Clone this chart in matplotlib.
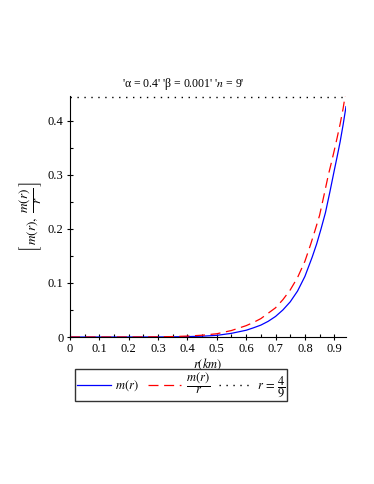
import numpy as np
import matplotlib.pyplot as plt
from matplotlib.ticker import MultipleLocator

plt.rcParams['font.family'] = ['Liberation Serif', 'DejaVu Serif']
plt.rcParams['mathtext.fontset'] = 'stix'

# values
r_m = [0, 0.1, 0.2, 0.3, 0.35, 0.4, 0.45, 0.5, 0.55, 0.6, 0.625, 0.65, 0.675, 0.7, 0.725, 0.75,
       0.775, 0.8, 0.825, 0.84, 0.855, 0.87, 0.885, 0.9, 0.91, 0.92, 0.93, 0.94]
m_vals = [0, 0, 0, 0.0001, 0.0003, 0.0007, 0.0015, 0.003, 0.0068, 0.0125, 0.017, 0.022, 0.029, 0.038, 0.05, 0.065,
          0.085, 0.112, 0.148, 0.172, 0.2, 0.23, 0.268, 0.308, 0.334, 0.361, 0.392, 0.426]

r_mr = [0, 0.1, 0.2, 0.3, 0.35, 0.4, 0.45, 0.5, 0.55, 0.6, 0.625, 0.65, 0.675, 0.7, 0.725, 0.75,
        0.775, 0.8, 0.82, 0.835, 0.85, 0.865, 0.88, 0.89, 0.9, 0.91, 0.92, 0.93, 0.937]
mr_vals = [0, 0, 0, 0.0003, 0.0008, 0.0017, 0.0033, 0.006, 0.012, 0.021, 0.027, 0.034, 0.044, 0.054, 0.069, 0.087,
           0.11, 0.14, 0.172, 0.198, 0.225, 0.262, 0.3, 0.322, 0.345, 0.369, 0.394, 0.422, 0.4457]

r_line = [0, 0.94]
surface = [4 / 9, 4 / 9]

fig = plt.figure(figsize=(3.74, 4.84), dpi=100)
ax = fig.add_axes([70 / 374, 1 - 337 / 484, 276 / 374, 241 / 484])

ax.plot(r_m, m_vals, color='blue', lw=0.9, label=r'$m(r)$')
ax.plot(r_mr, mr_vals, color='red', lw=0.9, dashes=(8, 4.5), label=r'$\dfrac{m(r)}{r}$')
ax.plot(r_line, surface, color='black', lw=1.0, ls=(0, (1, 4)), clip_on=False, label=r'$r\,=\,\dfrac{4}{9}$')

ax.set_xlim(0, 0.94)
ax.set_ylim(0, 0.4457)
ax.spines['top'].set_visible(False)
ax.spines['right'].set_visible(False)
ax.spines['left'].set_linewidth(0.8)
ax.spines['bottom'].set_linewidth(0.8)

ax.xaxis.set_minor_locator(MultipleLocator(0.05))
ax.yaxis.set_minor_locator(MultipleLocator(0.05))
ax.set_xticks(np.arange(0, 0.95, 0.1))
ax.set_xticklabels(['0', '0.1', '0.2', '0.3', '0.4', '0.5', '0.6', '0.7', '0.8', '0.9'])
ax.set_yticks([0, 0.1, 0.2, 0.3, 0.4])
ax.set_yticklabels(['0', '0.1', '0.2', '0.3', '0.4'])
ax.tick_params(which='major', direction='inout', length=5, width=0.8, labelsize=9, pad=2)
ax.tick_params(which='minor', direction='in', length=2.5, width=0.8)

ax.set_xlabel(r'$r(km)$', fontsize=9, labelpad=1)
ax.set_ylabel(r'$\left[\,m(r),\ \dfrac{m(r)}{r}\,\right]$', fontsize=9.5, labelpad=3)

fig.text(183 / 374, 1 - 84 / 484, "'α = 0.4' 'β = 0.001' '$n$ = 9'", ha='center', va='center', fontsize=8.5)

leg = fig.legend(loc='center', bbox_to_anchor=(181 / 374, 1 - 385 / 484), ncol=3, fontsize=9,
                 frameon=True, fancybox=False, edgecolor='black', handlelength=2.7,
                 columnspacing=0.7, handletextpad=0.35, borderpad=0.15, borderaxespad=0)
leg.get_frame().set_linewidth(1.0)

fig.savefig('out.png', dpi=100)
